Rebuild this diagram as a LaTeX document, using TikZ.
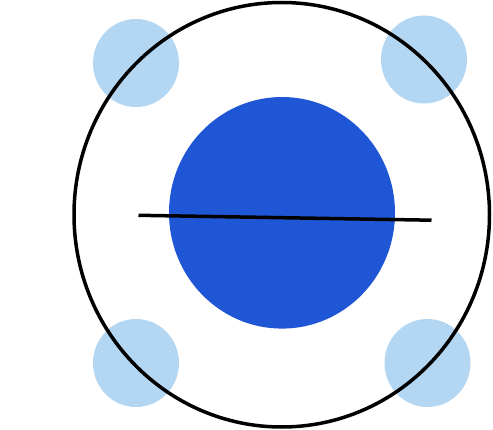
\documentclass[tikz,border=0pt]{standalone}
\begin{document}
\begin{tikzpicture}[x=1pt,y=-1pt,
  light/.style={fill={rgb,255:red,179;green,214;blue,242}, draw=none},
  core/.style={fill={rgb,255:red,30;green,86;blue,214}, draw=none},
  rim/.style={draw=black, line width=3.5pt},
  bar/.style={draw=black, line width=3.5pt}]
\useasboundingbox (0,0) rectangle (493,430);
\fill[white] (0,0) rectangle (493,430);
\path[light] (136,63) ellipse [x radius=43, y radius=44];
\path[light] (424,59.5) ellipse [x radius=43, y radius=44];
\path[light] (136,363) ellipse [x radius=43, y radius=44];
\path[light] (427.5,363) ellipse [x radius=43, y radius=44];
\path[rim] (281.75,214.75) ellipse [x radius=207.75, y radius=212.25];
\path[core] (282,212.8) ellipse [x radius=113, y radius=115.8];
\coordinate (a) at (138.5,215.3);
\coordinate (b) at (431.5,220.2);
\draw[bar] (a) -- (b);
\end{tikzpicture}
\end{document}
